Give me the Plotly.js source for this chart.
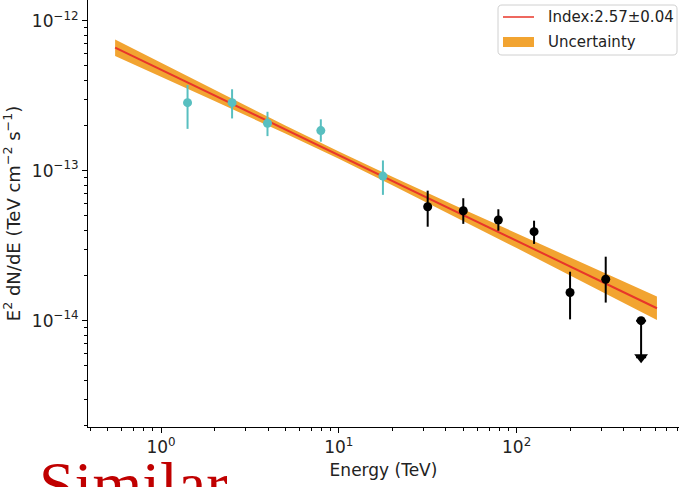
<!DOCTYPE html>
<html>
<head>
<meta charset="utf-8">
<script src="https://cdn.plot.ly/plotly-3.0.1.min.js"></script>
<style>html,body{margin:0;padding:0;background:#fff;}#chart{width:679px;height:487px;}</style>
</head>
<body>
<div id="chart"></div>
<script>
// ---- data ----
// low-energy points (cyan)
const lowE      = [1.41, 2.51, 3.97, 7.92, 17.7];
const lowFlux   = [2.84e-13, 2.84e-13, 2.07e-13, 1.85e-13, 9.2e-14];
const lowFluxHi = [3.73e-13, 3.49e-13, 2.47e-13, 2.20e-13, 1.17e-13];
const lowFluxLo = [1.90e-13, 2.23e-13, 1.70e-13, 1.56e-13, 6.9e-14];
// high-energy points (black)
const highE      = [31.6, 50.1, 78.9, 125.3, 199.7, 316.9];
const highFlux   = [5.75e-14, 5.41e-14, 4.69e-14, 3.92e-14, 1.54e-14, 1.89e-14];
const highFluxHi = [7.36e-14, 6.55e-14, 5.53e-14, 4.64e-14, 2.12e-14, 2.67e-14];
const highFluxLo = [4.23e-14, 4.42e-14, 3.98e-14, 3.25e-14, 1.02e-14, 1.32e-14];
// upper limit
const ulE    = [501];
const ulFlux = [1.0e-14];
const ulTip  = [5.7e-15];
// fitted power law (end points) and uncertainty band
const fitE    = [0.552, 615];
const fitFlux = [6.61e-13, 1.21e-14];
const bandE   = [0.552, 1, 2, 5, 10, 20, 50, 100, 200, 400, 615];
const bandHi  = [7.50e-13, 5.24e-13, 3.45e-13, 2.00e-13, 1.34e-13, 9.10e-14, 5.53e-14, 3.81e-14, 2.63e-14, 1.82e-14, 1.45e-14];
const bandLo  = [5.82e-13, 4.24e-13, 2.91e-13, 1.77e-13, 1.20e-13, 8.00e-14, 4.65e-14, 3.05e-14, 2.00e-14, 1.32e-14, 1.01e-14];
// labels
const fitLabel  = 'Index:2.57\u00b10.04';
const bandLabel = 'Uncertainty';
const xTickVals = [1, 10, 100];
const xTickText = ['10<sup>0</sup>', '10<sup>1</sup>', '10<sup>2</sup>'];
const yTickVals = [1e-14, 1e-13, 1e-12];
const yTickText = ['10<sup>\u221214</sup>', '10<sup>\u221213</sup>', '10<sup>\u221212</sup>'];
const xTitle = 'Energy (TeV)';
const yTitle = 'E<sup>2</sup> dN/dE (TeV cm<sup>\u22122</sup> s<sup>\u22121</sup>)';
const stampText = 'Similar';

// ---- styling ----
const CYAN = '#58bfc0', RED = '#e8362a', ORANGE = '#f2a431';
const FONT = 'DejaVu Sans, sans-serif';

function diff(a, b) { return a.map((v, i) => v - b[i]); }
function minorVals(decFrom, decTo) {
  const out = [];
  for (let d = decFrom; d <= decTo; d++) for (let m = 2; m <= 9; m++) out.push(m * Math.pow(10, d));
  return out;
}

const traces = [
  {x: bandE, y: bandLo, mode: 'lines', line: {width: 0, color: ORANGE}, showlegend: false, hoverinfo: 'skip'},
  {x: bandE, y: bandHi, mode: 'lines', line: {width: 0, color: ORANGE}, fill: 'tonexty', fillcolor: ORANGE, name: bandLabel, showlegend: false},
  {x: fitE, y: fitFlux, mode: 'lines', line: {color: RED, width: 2}, name: fitLabel, showlegend: false},
  {x: lowE, y: lowFlux, mode: 'markers', marker: {color: CYAN, size: 9},
   error_y: {type: 'data', symmetric: false, array: diff(lowFluxHi, lowFlux), arrayminus: diff(lowFlux, lowFluxLo), color: CYAN, thickness: 2, width: 0},
   showlegend: false},
  {x: highE, y: highFlux, mode: 'markers', marker: {color: '#000', size: 9},
   error_y: {type: 'data', symmetric: false, array: diff(highFluxHi, highFlux), arrayminus: diff(highFlux, highFluxLo), color: '#000', thickness: 2, width: 0},
   showlegend: false},
  {x: ulE, y: ulFlux, mode: 'markers', marker: {color: '#000', size: 9},
   error_y: {type: 'data', symmetric: false, array: [0], arrayminus: diff(ulFlux, ulTip), color: '#000', thickness: 2, width: 5},
   showlegend: false},
  {x: ulE, y: ulTip, mode: 'markers', marker: {color: '#000', size: 12, symbol: 'triangle-down'}, showlegend: false}
];

// pixel helpers for legend / stamp placement (plot area: l=88, w=591, t=0, h=427)
const PL = 88, PW = 591, PH = 427;
const px = v => (v - PL) / PW;
const py = v => (PH - v) / PH;

// rounded legend frame in paper units
function roundRect(x0, y0, x1, y1, r) {
  const X = v => px(v).toFixed(5), Y = v => py(v).toFixed(5);
  return 'M' + X(x0 + r) + ',' + Y(y0) + ' L' + X(x1 - r) + ',' + Y(y0) +
    ' Q' + X(x1) + ',' + Y(y0) + ' ' + X(x1) + ',' + Y(y0 + r) +
    ' L' + X(x1) + ',' + Y(y1 - r) + ' Q' + X(x1) + ',' + Y(y1) + ' ' + X(x1 - r) + ',' + Y(y1) +
    ' L' + X(x0 + r) + ',' + Y(y1) + ' Q' + X(x0) + ',' + Y(y1) + ' ' + X(x0) + ',' + Y(y1 - r) +
    ' L' + X(x0) + ',' + Y(y0 + r) + ' Q' + X(x0) + ',' + Y(y0) + ' ' + X(x0 + r) + ',' + Y(y0) + ' Z';
}

const layout = {
  width: 679, height: 487,
  margin: {l: PL, r: 0, t: 0, b: 487 - PH},
  paper_bgcolor: '#fff', plot_bgcolor: '#fff',
  font: {family: FONT, color: '#000', size: 17},
  showlegend: false,
  xaxis: {
    type: 'log', range: [-0.4106, 2.913], showgrid: false, zeroline: false,
    showline: true, linecolor: '#000', linewidth: 1, mirror: false,
    ticks: 'outside', ticklen: 5, tickwidth: 1, tickcolor: '#000',
    tickmode: 'array', tickvals: xTickVals, ticktext: xTickText,
    tickfont: {family: FONT, size: 17, color: '#222'},
    minor: {tickmode: 'array', tickvals: minorVals(-1, 2), ticks: 'outside', ticklen: 3, tickwidth: 1, tickcolor: '#000', showgrid: false},
    title: {text: xTitle, font: {family: FONT, size: 17, color: '#222'}, standoff: 7}
  },
  yaxis: {
    type: 'log', range: [-14.709, -11.862], showgrid: false, zeroline: false,
    showline: true, linecolor: '#000', linewidth: 1, mirror: false,
    ticks: 'outside', ticklen: 5, tickwidth: 1, tickcolor: '#000',
    tickmode: 'array', tickvals: yTickVals, ticktext: yTickText,
    tickfont: {family: FONT, size: 17, color: '#222'},
    minor: {tickmode: 'array', tickvals: minorVals(-15, -12), ticks: 'outside', ticklen: 3, tickwidth: 1, tickcolor: '#000', showgrid: false},
    title: {text: yTitle, font: {family: FONT, size: 18, color: '#222'}, standoff: 13}
  },
  shapes: [
    {type: 'path', xref: 'paper', yref: 'paper', path: roundRect(498, 5, 677, 55, 4),
     line: {color: '#d0d0d0', width: 1}, fillcolor: 'rgba(255,255,255,0.8)'},
    {type: 'line', xref: 'paper', yref: 'paper', x0: px(503), x1: px(534), y0: py(17), y1: py(17),
     line: {color: RED, width: 1.5}},
    {type: 'rect', xref: 'paper', yref: 'paper', x0: px(503), x1: px(534), y0: py(47), y1: py(37),
     line: {width: 0}, fillcolor: ORANGE}
  ],
  annotations: [
    {xref: 'paper', yref: 'paper', x: px(546), y: py(17), xanchor: 'left', yanchor: 'middle', showarrow: false,
     text: fitLabel, font: {family: FONT, size: 15, color: '#222'}},
    {xref: 'paper', yref: 'paper', x: px(546), y: py(42), xanchor: 'left', yanchor: 'middle', showarrow: false,
     text: bandLabel, font: {family: FONT, size: 15, color: '#222'}},
    {xref: 'paper', yref: 'paper', x: px(37), y: py(447), xanchor: 'left', yanchor: 'top', showarrow: false,
     text: stampText, font: {family: 'Liberation Serif, serif', size: 64, color: '#c00000'}}
  ]
};

Plotly.newPlot('chart', traces, layout, {displayModeBar: false, staticPlot: true});
</script>
</body>
</html>
